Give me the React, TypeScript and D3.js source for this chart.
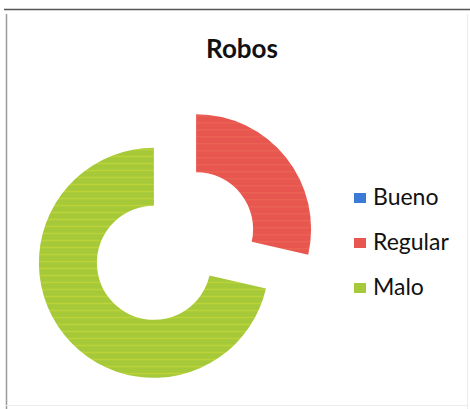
import React from "react";
import * as d3 from "d3";

const title = "Robos";
const categories = ["Bueno", "Regular", "Malo"];
const values = [0, 2, 5];
const colors = ["#3b7ad6", "#e8574f", "#a6c93a"];

const W = 470;
const H = 409;
const cx = 175;
const cy = 246;
const outerR = 115;
const innerR = 57;
const explode = 27;

export default function App() {
  const pie = d3
    .pie<number>()
    .sort(null)
    .startAngle(0)
    .endAngle(2 * Math.PI)
    .value((d) => d);
  const arcs = pie(values);
  const arcGen = d3
    .arc<d3.PieArcDatum<number>>()
    .innerRadius(innerR)
    .outerRadius(outerR);

  const legendY = d3
    .scalePoint<string>()
    .domain(categories)
    .range([205, 295]);

  return (
    <svg
      width={W}
      height={H}
      style={{ position: "absolute", left: 0, top: 0, background: "#fff" }}
    >
      <defs>
        {colors.map((c, i) => (
          <pattern
            key={i}
            id={`stripe${i}`}
            patternUnits="userSpaceOnUse"
            width={8}
            height={7}
          >
            <rect width={8} height={7} fill={c} />
            <rect y={5} width={8} height={1.2} fill={i === 2 ? "#cbd836" : "#ee6a58"} opacity={0.7} />
          </pattern>
        ))}
      </defs>
      {/* frame */}
      <line x1={4} x2={470} y1={9.5} y2={9.5} stroke="#555" strokeWidth={1.5} />
      <line x1={6.5} x2={6.5} y1={14} y2={409} stroke="#9a9a9a" strokeWidth={1.5} />
      <line x1={467.5} x2={467.5} y1={14} y2={409} stroke="#ececec" strokeWidth={1} />
      <line x1={6} x2={468} y1={405.5} y2={405.5} stroke="#ececec" strokeWidth={1} />

      <text
        x={242}
        y={58}
        textAnchor="middle"
        fontFamily="Lato, 'Open Sans', sans-serif"
        fontWeight="bold"
        fontSize={26}
        fill="#111"
      >
        {title}
      </text>

      <g>
        {arcs.map((a, i) => {
          if (a.endAngle - a.startAngle <= 0) return null;
          const mid = (a.startAngle + a.endAngle) / 2;
          const dx = explode * Math.sin(mid);
          const dy = -explode * Math.cos(mid);
          return (
            <path
              key={categories[i]}
              d={arcGen(a) || ""}
              transform={`translate(${cx + dx},${cy + dy})`}
              fill={`url(#stripe${i})`}
            />
          );
        })}
      </g>

      <g fontFamily="Lato, 'Open Sans', sans-serif" fontSize={23} fill="#111">
        {categories.map((c, i) => {
          const y = legendY(c) as number;
          return (
            <g key={c}>
              <rect x={354} y={y - 12} width={12} height={10} fill={colors[i]} />
              <text x={373} y={y}>
                {c}
              </text>
            </g>
          );
        })}
      </g>
    </svg>
  );
}
